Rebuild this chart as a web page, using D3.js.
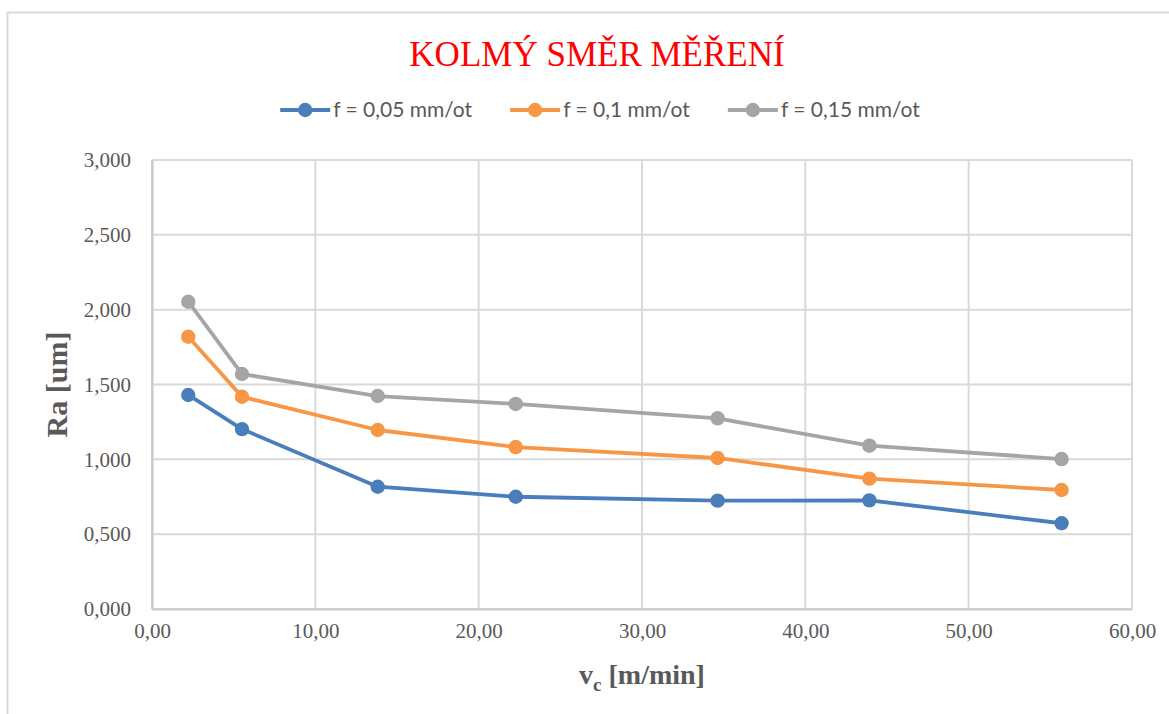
<!DOCTYPE html>
<html>
<head>
<meta charset="utf-8">
<script src="https://cdn.jsdelivr.net/npm/d3@7"></script>
<style>
  html, body { margin: 0; padding: 0; background: #fff; }
  svg { display: block; }
</style>
</head>
<body>
<svg id="chart" width="1169" height="714"></svg>
<script>
// Cutting speed v_c [m/min]
const cuttingSpeeds = [2.22, 5.51, 13.82, 22.27, 34.63, 43.92, 55.69];

// Surface roughness Ra [um] for each feed
const seriesNames = ["f = 0,05 mm/ot", "f = 0,1 mm/ot", "f = 0,15 mm/ot"];
const raFeed005 = [1.430, 1.202, 0.817, 0.750, 0.724, 0.726, 0.573];
const raFeed010 = [1.819, 1.418, 1.196, 1.082, 1.009, 0.871, 0.795];
const raFeed015 = [2.053, 1.570, 1.423, 1.370, 1.274, 1.091, 1.002];
const seriesColors = ["#4A7EBB", "#F79646", "#A5A5A5"];

const yTicks = [0, 0.5, 1.0, 1.5, 2.0, 2.5, 3.0];
const xTicks = [0, 10, 20, 30, 40, 50, 60];

const series = [raFeed005, raFeed010, raFeed015].map((vals, i) => ({
  name: seriesNames[i],
  color: seriesColors[i],
  points: vals.map((v, j) => ({ x: cuttingSpeeds[j], y: v }))
}));

const locale = d3.formatLocale({ decimal: ",", thousands: " ", grouping: [3], currency: ["", " Kč"] });
const fmtY = locale.format(".3f");
const fmtX = locale.format(".2f");

const svg = d3.select("#chart");
const plot = { left: 152, right: 1132, top: 160, bottom: 609 };

const x = d3.scaleLinear().domain([0, 60]).range([plot.left, plot.right]);
const y = d3.scaleLinear().domain([0, 3]).range([plot.bottom, plot.top]);

// Chart frame
svg.append("rect")
  .attr("x", 7.5).attr("y", 12.5)
  .attr("width", 1200).attr("height", 740)
  .attr("fill", "#fff").attr("stroke", "#D9D9D9").attr("stroke-width", 2);

// Title
svg.append("text")
  .attr("x", 597).attr("y", 66)
  .attr("text-anchor", "middle")
  .attr("font-family", "'Liberation Serif', 'Times New Roman', serif")
  .attr("font-size", 35)
  .attr("fill", "#FF0000")
  .text("KOLMÝ SMĚR MĚŘENÍ");

// Gridlines
const grid = svg.append("g");
grid.selectAll("line.h").data(yTicks).join("line")
  .attr("x1", plot.left).attr("x2", plot.right)
  .attr("y1", d => y(d)).attr("y2", d => y(d))
  .attr("stroke", "#D9D9D9").attr("stroke-width", 2);
grid.selectAll("line.v").data(xTicks).join("line")
  .attr("y1", plot.top).attr("y2", plot.bottom)
  .attr("x1", d => x(d)).attr("x2", d => x(d))
  .attr("stroke", "#D9D9D9").attr("stroke-width", 2);

// Axes
const yAxis = d3.axisLeft(y).tickValues(yTicks).tickFormat(fmtY).tickSize(0).tickPadding(21);
const xAxis = d3.axisBottom(x).tickValues(xTicks).tickFormat(fmtX).tickSize(0).tickPadding(14);

const gy = svg.append("g").attr("transform", `translate(${plot.left},0)`).call(yAxis);
const gx = svg.append("g").attr("transform", `translate(0,${plot.bottom})`).call(xAxis);
[gx, gy].forEach(g => {
  g.select(".domain").attr("stroke", "#C9C9C9").attr("stroke-width", 2);
  g.selectAll("text")
    .attr("font-family", "'Liberation Serif', 'Times New Roman', serif")
    .attr("font-size", 21)
    .attr("fill", "#595959");
});

// Axis titles
svg.append("text")
  .attr("transform", `translate(67,${(plot.top + plot.bottom) / 2}) rotate(-90)`)
  .attr("text-anchor", "middle")
  .attr("font-family", "'Liberation Serif', 'Times New Roman', serif")
  .attr("font-weight", "bold")
  .attr("font-size", 30)
  .attr("fill", "#595959")
  .text("Ra [um]");

const xt = svg.append("text")
  .attr("x", (plot.left + plot.right) / 2).attr("y", 684)
  .attr("text-anchor", "middle")
  .attr("font-family", "'Liberation Serif', 'Times New Roman', serif")
  .attr("font-weight", "bold")
  .attr("font-size", 28)
  .attr("fill", "#595959");
xt.append("tspan").text("v");
xt.append("tspan").attr("font-size", 19).attr("dy", 7).text("c");
xt.append("tspan").attr("dy", -7).text(" [m/min]");

// Series lines and markers
const line = d3.line().x(d => x(d.x)).y(d => y(d.y));
const gs = svg.append("g").selectAll("g").data(series).join("g");
gs.append("path")
  .attr("d", d => line(d.points))
  .attr("fill", "none")
  .attr("stroke", d => d.color)
  .attr("stroke-width", 3.8)
  .attr("stroke-linejoin", "round");
gs.selectAll("circle").data(d => d.points.map(p => ({ ...p, color: d.color }))).join("circle")
  .attr("cx", d => x(d.x)).attr("cy", d => y(d.y))
  .attr("r", 7.2)
  .attr("fill", d => d.color);

// Legend
const legend = svg.append("g");
const items = legend.selectAll("g").data(series).join("g");
items.append("line")
  .attr("x1", 0).attr("x2", 50).attr("y1", 0).attr("y2", 0)
  .attr("stroke", d => d.color).attr("stroke-width", 3.8);
items.append("circle").attr("cx", 25).attr("cy", 0).attr("r", 7.2).attr("fill", d => d.color);
items.append("text")
  .attr("x", 53).attr("y", 0).attr("dy", "0.35em")
  .attr("font-family", "Lato, 'Liberation Sans', sans-serif")
  .attr("font-size", 21)
  .attr("fill", "#595959")
  .text(d => d.name);

let offset = 0;
const gap = 38;
items.each(function () {
  const w = 53 + d3.select(this).select("text").node().getComputedTextLength();
  d3.select(this).attr("transform", `translate(${offset},110)`);
  offset += w + gap;
});
const total = offset - gap;
legend.attr("transform", `translate(${600 - total / 2},0)`);
</script>
</body>
</html>
